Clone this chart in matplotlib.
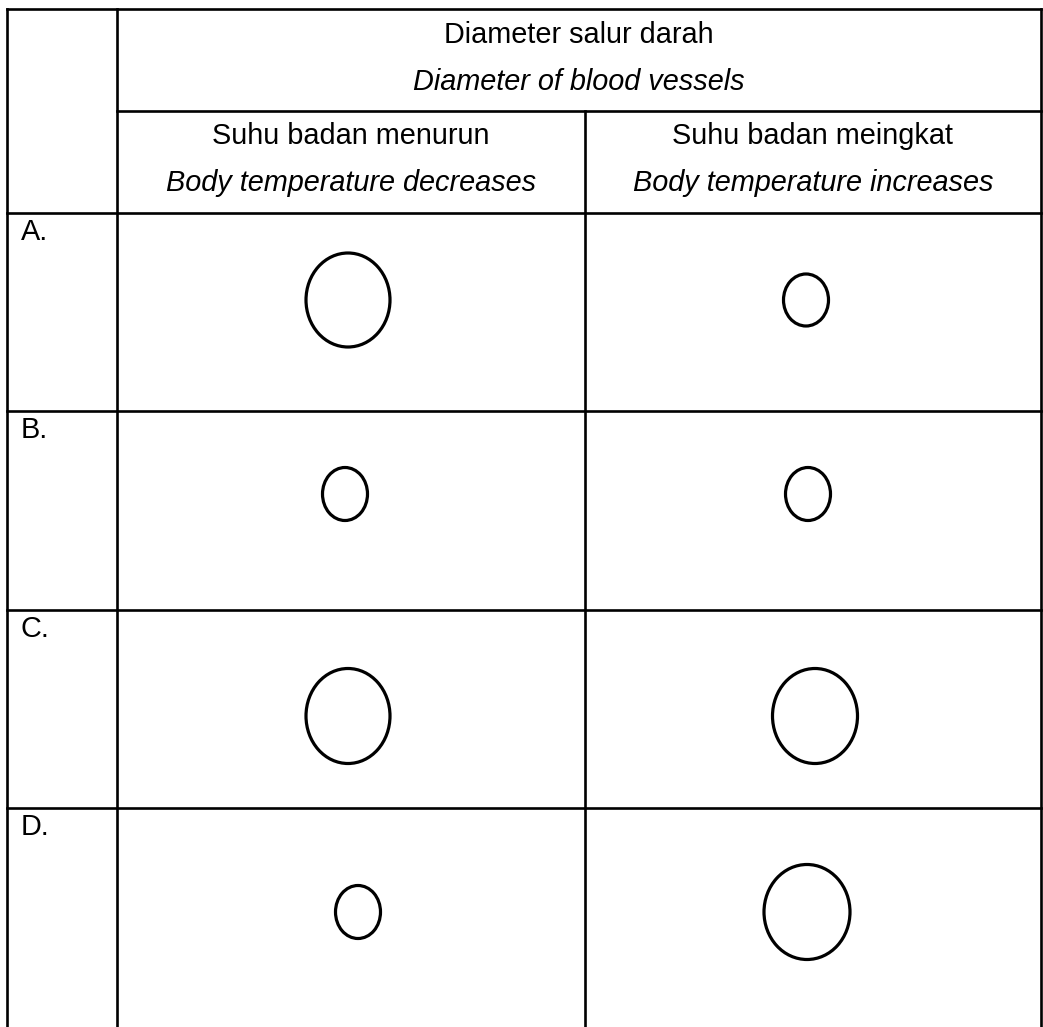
import matplotlib
matplotlib.use("Agg")
import matplotlib.pyplot as plt
from matplotlib.patches import Ellipse

# ---- data ----
header_top = ["Diameter salur darah", "Diameter of blood vessels"]
col_headers = [["Suhu badan menurun", "Body temperature decreases"],
               ["Suhu badan meingkat", "Body temperature increases"]]
row_labels = ["A.", "B.", "C.", "D."]
# vessel diameters (width, height in px) per option: left = temp decreases, right = temp increases
left_w = [84, 45, 84, 45]
left_h = [94, 53, 95, 53]
right_w = [45, 45, 85, 86]
right_h = [52, 53, 95, 95]

# ---- layout ----
W, H = 1043, 1027
fig = plt.figure(figsize=(W / 100, H / 100), dpi=100)
ax = fig.add_axes([0, 0, 1, 1])
ax.set_xlim(0, W)
ax.set_ylim(H, 0)
ax.axis("off")

lw = 1.9
xl, xm1, xm2, xr = 7, 117, 585, 1041
y_top, y_sub, y_head = 9, 111, 213
row_tops = [213, 411, 610, 808]
y_bottom = H + 5

# vertical lines
for x in (xl, xm1, xr):
    ax.plot([x, x], [y_top, y_bottom], color="black", lw=lw, solid_capstyle="projecting")
ax.plot([xm2, xm2], [y_sub, y_bottom], color="black", lw=lw)
# horizontal lines
ax.plot([xl, xr], [y_top, y_top], color="black", lw=lw)
ax.plot([xm1, xr], [y_sub, y_sub], color="black", lw=lw)
for y in row_tops:
    ax.plot([xl, xr], [y, y], color="black", lw=lw)

font = "Liberation Sans"
fs = 20.8
cx_all = (xm1 + xr) / 2
ax.text(cx_all, 35, header_top[0], ha="center", va="center", fontsize=fs, family=font)
ax.text(cx_all, 82, header_top[1], ha="center", va="center", fontsize=fs, family=font, style="italic")
col_cx = [(xm1 + xm2) / 2, (xm2 + xr) / 2]
for cx, (t1, t2) in zip(col_cx, col_headers):
    ax.text(cx, 136, t1, ha="center", va="center", fontsize=fs, family=font)
    ax.text(cx, 183, t2, ha="center", va="center", fontsize=fs, family=font, style="italic")

for y, lab in zip(row_tops, row_labels):
    ax.text(21, y + 19, lab, ha="left", va="center", fontsize=fs, family=font)

# circles
left_cx = [348, 345, 348, 358]
right_cx = [806, 808, 815, 807]
row_cy = [300, 494, 716, 912]
for i in range(4):
    ax.add_patch(Ellipse((left_cx[i], row_cy[i]), left_w[i], left_h[i],
                         fill=False, edgecolor="black", lw=2.3))
    ax.add_patch(Ellipse((right_cx[i], row_cy[i]), right_w[i], right_h[i],
                         fill=False, edgecolor="black", lw=2.3))

fig.savefig("out.png", dpi=100, facecolor="white")
